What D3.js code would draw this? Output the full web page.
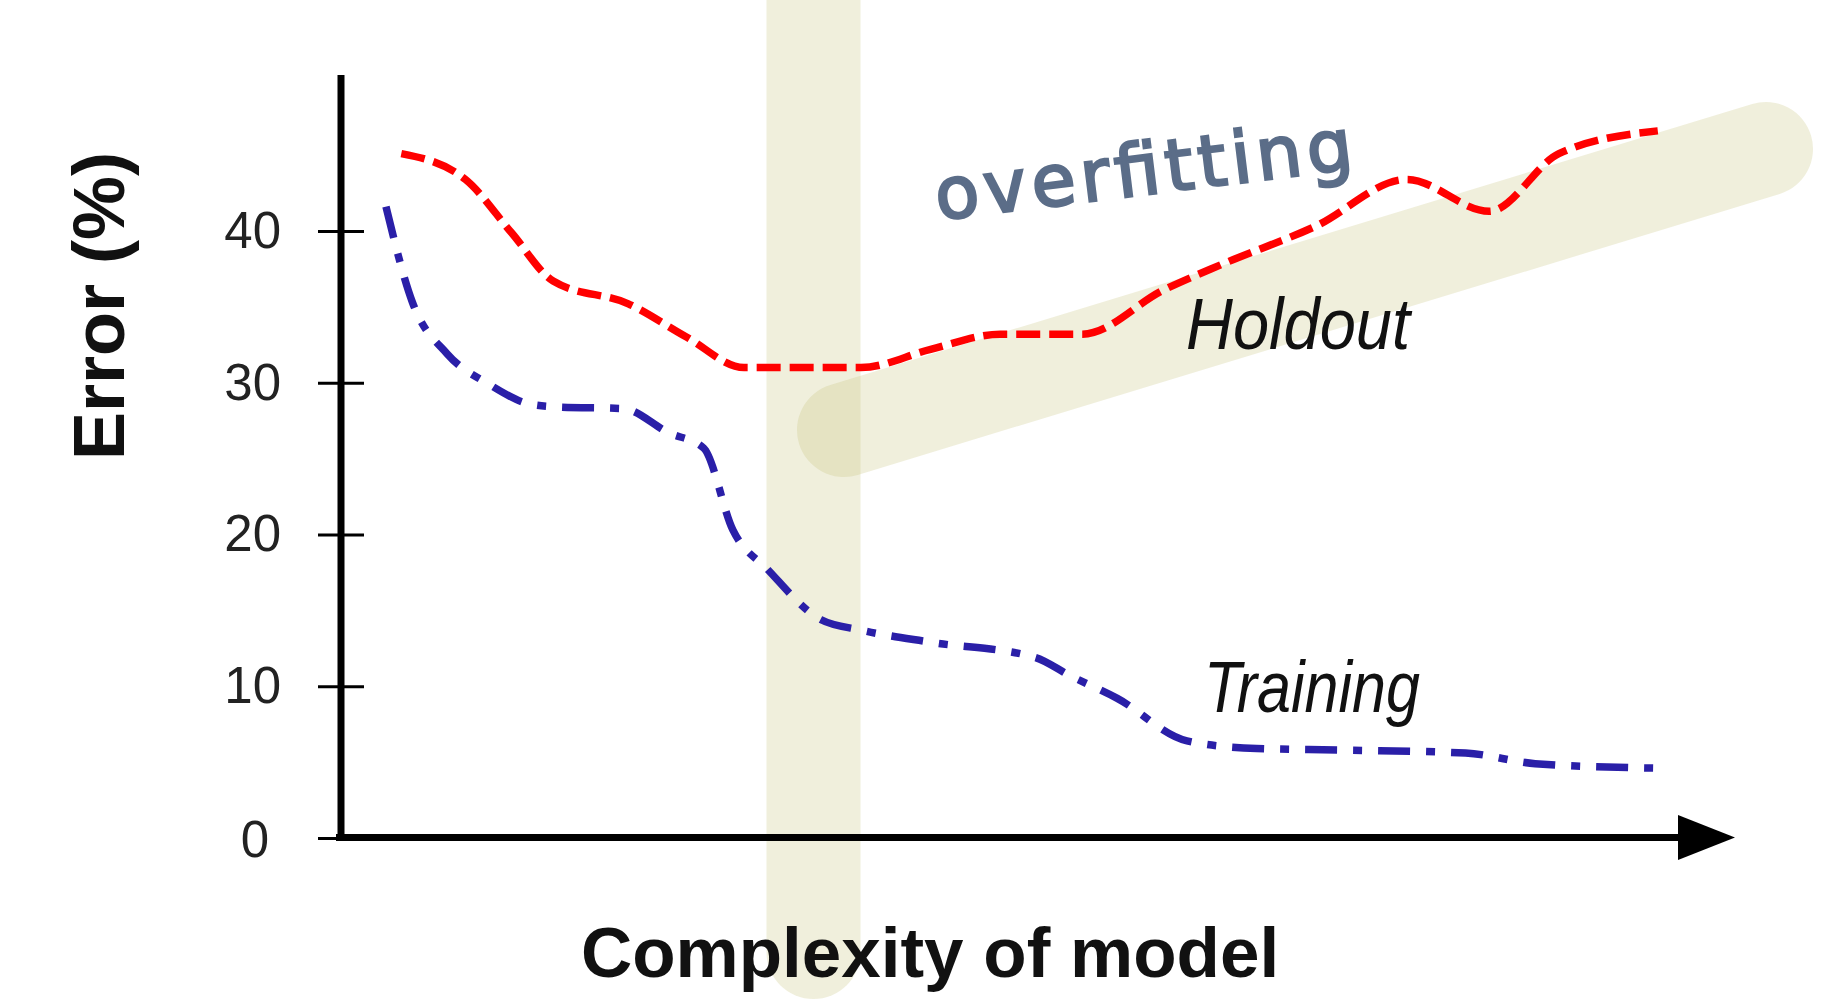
<!DOCTYPE html>
<html>
<head>
<meta charset="utf-8">
<script src="https://cdn.jsdelivr.net/npm/d3@7"></script>
<style>
  html, body { margin: 0; padding: 0; background: #ffffff; }
  svg { display: block; }
</style>
</head>
<body>
<svg id="chart" width="1824" height="1000"></svg>
<script>
// ---- data ----
const yTicks = [0, 10, 20, 30, 40];

const holdoutX = [4.4, 9.0, 12.3, 15.3, 20.7, 24.9, 29.0, 37.4, 42.4, 47.4, 53.3, 59.1, 63.3, 70.0, 76.6, 82.5, 87.5, 94.6];
const holdoutY = [45.1, 43.4, 39.9, 36.7, 35.2, 33.0, 31.0, 31.0, 32.2, 33.2, 33.2, 36.1, 37.8, 40.3, 43.4, 41.3, 45.1, 46.6];

const trainingX = [3.3, 5.2, 7.7, 10.7, 13.6, 15.7, 20.3, 23.6, 26.1, 28.2, 30.7, 34.5, 37.4, 42.4, 49.9, 52.4, 55.8, 60.8, 65.8, 71.6, 80.8, 85.8, 94.6];
const trainingY = [41.6, 35.3, 31.9, 29.9, 28.6, 28.4, 28.3, 26.7, 25.7, 20.3, 17.7, 14.4, 13.7, 12.9, 11.9, 10.7, 9.2, 6.4, 5.9, 5.8, 5.6, 4.9, 4.6];

const yLabel = "Error (%)";
const xLabel = "Complexity of model";
const holdoutLabel = "Holdout";
const trainingLabel = "Training";
const noteLabel = "overfitting";

// ---- drawing ----
const svg = d3.select("#chart");

const x = d3.scaleLinear().domain([0, 100]).range([340, 1733]);
const y = d3.scaleLinear().domain([0, 40]).range([838, 231]);

// highlighter bands (behind)
const bands = svg.append("g").attr("class", "highlights");
bands.append("line")
  .attr("x1", 813.5).attr("y1", -80).attr("x2", 813.5).attr("y2", 952)
  .attr("stroke", "rgba(195,191,115,0.25)")
  .attr("stroke-width", 94)
  .attr("stroke-linecap", "round");
bands.append("line")
  .attr("x1", 844).attr("y1", 430).attr("x2", 1766).attr("y2", 149)
  .attr("stroke", "rgba(195,191,115,0.25)")
  .attr("stroke-width", 94)
  .attr("stroke-linecap", "round");

// y axis ticks + labels
const yAxis = d3.axisLeft(y).tickValues(yTicks).tickSize(46).tickPadding(37).tickFormat(d3.format("d"));
const gy = svg.append("g").attr("transform", "translate(364,0)").call(yAxis);
gy.select(".domain").remove();
gy.selectAll(".tick line").attr("stroke", "#000").attr("stroke-width", 3);
gy.selectAll(".tick text")
  .attr("font-family", "'Liberation Sans', Arial, Helvetica, sans-serif")
  .attr("font-size", 51)
  .attr("fill", "#222");
gy.selectAll(".tick").filter(d => d === 0).select("text").attr("dx", -12).attr("dy", "0.36em");

// y axis line
svg.append("line")
  .attr("x1", 341).attr("y1", 75).attr("x2", 341).attr("y2", 841)
  .attr("stroke", "#000").attr("stroke-width", 7);

// x axis line + arrow
svg.append("line")
  .attr("x1", 336).attr("y1", 837.5).attr("x2", 1690).attr("y2", 837.5)
  .attr("stroke", "#000").attr("stroke-width", 7);
svg.append("path")
  .attr("d", `M1678,815 L1735,837.5 L1678,860 Z`)
  .attr("fill", "#000");

// series
const line = d3.line().x(d => x(d[0])).y(d => y(d[1])).curve(d3.curveMonotoneX);

const holdout = holdoutX.map((v, i) => [v, holdoutY[i]]);
const training = trainingX.map((v, i) => [v, trainingY[i]]);

svg.append("path")
  .datum(holdout)
  .attr("d", line)
  .attr("fill", "none")
  .attr("stroke", "#ff0000")
  .attr("stroke-width", 7.5)
  .attr("stroke-dasharray", "24,9");

svg.append("path")
  .datum(training)
  .attr("d", line)
  .attr("fill", "none")
  .attr("stroke", "#2a1fa8")
  .attr("stroke-width", 7.5)
  .attr("stroke-dasharray", "32,16,9,16");

// series labels
svg.append("text")
  .attr("x", 1186).attr("y", 349)
  .attr("font-family", "'Liberation Sans Narrow', 'Liberation Sans', Arial, sans-serif")
  .attr("font-style", "italic")
  .attr("font-size", 72)
  .attr("textLength", 224).attr("lengthAdjust", "spacingAndGlyphs")
  .attr("fill", "#111")
  .text(holdoutLabel);

svg.append("text")
  .attr("x", 1204).attr("y", 712)
  .attr("font-family", "'Liberation Sans Narrow', 'Liberation Sans', Arial, sans-serif")
  .attr("font-style", "italic")
  .attr("font-size", 72)
  .attr("textLength", 216).attr("lengthAdjust", "spacingAndGlyphs")
  .attr("fill", "#111")
  .text(trainingLabel);

// handwritten note
svg.append("text")
  .attr("transform", "translate(938,220) rotate(-7)")
  .attr("font-family", "'DejaVu Sans', sans-serif")
  .attr("font-size", 72)
  .attr("textLength", 420).attr("lengthAdjust", "spacing")
  .attr("fill", "#5b6d88")
  .attr("stroke", "#5b6d88")
  .attr("stroke-width", 2.5)
  .text(noteLabel);

// axis titles
svg.append("text")
  .attr("transform", "translate(124,306) rotate(-90)")
  .attr("text-anchor", "middle")
  .attr("font-family", "'Liberation Sans', Arial, Helvetica, sans-serif")
  .attr("font-weight", "bold")
  .attr("font-size", 72)
  .attr("fill", "#111")
  .text(yLabel);

svg.append("text")
  .attr("x", 930).attr("y", 977)
  .attr("text-anchor", "middle")
  .attr("font-family", "'Liberation Sans', Arial, Helvetica, sans-serif")
  .attr("font-weight", "bold")
  .attr("font-size", 71)
  .attr("fill", "#111")
  .text(xLabel);
</script>
</body>
</html>
